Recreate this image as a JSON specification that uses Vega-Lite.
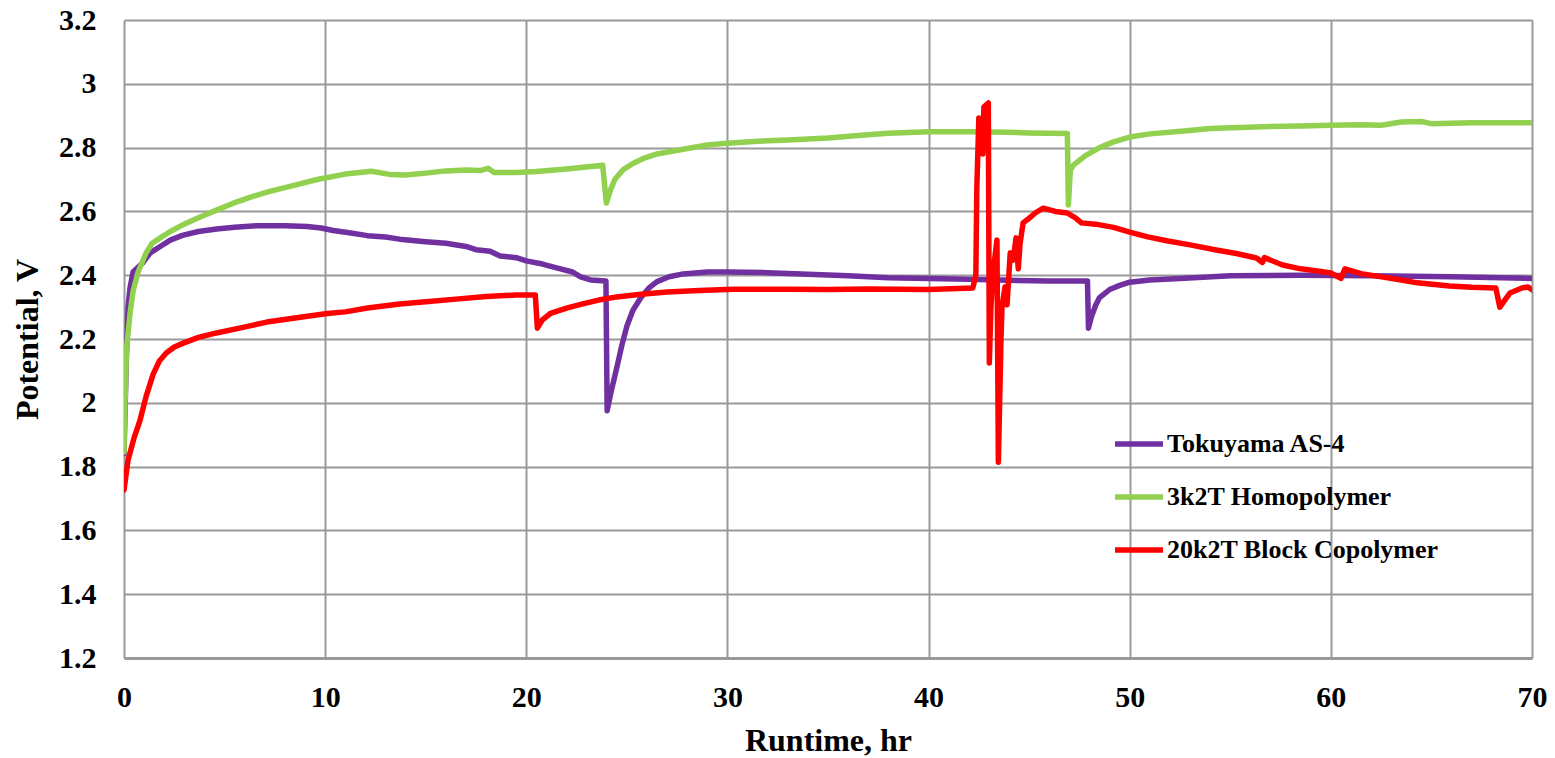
{
  "$schema": "https://vega.github.io/schema/vega-lite/v6.json",
  "width": 1408,
  "height": 638,
  "autosize": {"type": "none"},
  "padding": {"left": 124, "top": 20, "right": 23, "bottom": 100},
  "background": "white",
  "config": {"view": {"stroke": null}, "font": "Liberation Serif"},
  "data": {"values": [
    {"s":"Tokuyama AS-4","t":0,"v":1.84},{"s":"Tokuyama AS-4","t":0.1,"v":2.1},{"s":"Tokuyama AS-4","t":0.2,"v":2.3},{"s":"Tokuyama AS-4","t":0.3,"v":2.36},{"s":"Tokuyama AS-4","t":0.45,"v":2.41},{"s":"Tokuyama AS-4","t":0.7,"v":2.425},{"s":"Tokuyama AS-4","t":0.95,"v":2.44},{"s":"Tokuyama AS-4","t":1.3,"v":2.47},{"s":"Tokuyama AS-4","t":1.8,"v":2.49},{"s":"Tokuyama AS-4","t":2.3,"v":2.51},{"s":"Tokuyama AS-4","t":2.9,"v":2.525},{"s":"Tokuyama AS-4","t":3.7,"v":2.537},{"s":"Tokuyama AS-4","t":4.6,"v":2.545},{"s":"Tokuyama AS-4","t":5.5,"v":2.55},{"s":"Tokuyama AS-4","t":6.6,"v":2.555},{"s":"Tokuyama AS-4","t":8,"v":2.555},{"s":"Tokuyama AS-4","t":9.1,"v":2.553},{"s":"Tokuyama AS-4","t":9.8,"v":2.548},{"s":"Tokuyama AS-4","t":10.4,"v":2.54},{"s":"Tokuyama AS-4","t":11.2,"v":2.533},{"s":"Tokuyama AS-4","t":12.1,"v":2.524},{"s":"Tokuyama AS-4","t":13,"v":2.52},{"s":"Tokuyama AS-4","t":13.7,"v":2.513},{"s":"Tokuyama AS-4","t":15,"v":2.505},{"s":"Tokuyama AS-4","t":16,"v":2.5},{"s":"Tokuyama AS-4","t":17,"v":2.49},{"s":"Tokuyama AS-4","t":17.5,"v":2.48},{"s":"Tokuyama AS-4","t":18.2,"v":2.475},{"s":"Tokuyama AS-4","t":18.7,"v":2.46},{"s":"Tokuyama AS-4","t":19.5,"v":2.455},{"s":"Tokuyama AS-4","t":20,"v":2.445},{"s":"Tokuyama AS-4","t":20.8,"v":2.435},{"s":"Tokuyama AS-4","t":21.7,"v":2.42},{"s":"Tokuyama AS-4","t":22.3,"v":2.41},{"s":"Tokuyama AS-4","t":22.7,"v":2.395},{"s":"Tokuyama AS-4","t":23.2,"v":2.385},{"s":"Tokuyama AS-4","t":23.96,"v":2.382},{"s":"Tokuyama AS-4","t":24.02,"v":1.975},{"s":"Tokuyama AS-4","t":24.2,"v":2.03},{"s":"Tokuyama AS-4","t":24.5,"v":2.11},{"s":"Tokuyama AS-4","t":24.75,"v":2.18},{"s":"Tokuyama AS-4","t":25,"v":2.24},{"s":"Tokuyama AS-4","t":25.3,"v":2.29},{"s":"Tokuyama AS-4","t":25.7,"v":2.33},{"s":"Tokuyama AS-4","t":26.1,"v":2.36},{"s":"Tokuyama AS-4","t":26.5,"v":2.38},{"s":"Tokuyama AS-4","t":27.1,"v":2.395},{"s":"Tokuyama AS-4","t":27.8,"v":2.404},{"s":"Tokuyama AS-4","t":29,"v":2.41},{"s":"Tokuyama AS-4","t":30,"v":2.41},{"s":"Tokuyama AS-4","t":32,"v":2.408},{"s":"Tokuyama AS-4","t":34,"v":2.403},{"s":"Tokuyama AS-4","t":36,"v":2.398},{"s":"Tokuyama AS-4","t":38,"v":2.392},{"s":"Tokuyama AS-4","t":40,"v":2.39},{"s":"Tokuyama AS-4","t":42,"v":2.387},{"s":"Tokuyama AS-4","t":44,"v":2.384},{"s":"Tokuyama AS-4","t":46,"v":2.382},{"s":"Tokuyama AS-4","t":47.9,"v":2.382},{"s":"Tokuyama AS-4","t":47.95,"v":2.234},{"s":"Tokuyama AS-4","t":48.1,"v":2.27},{"s":"Tokuyama AS-4","t":48.3,"v":2.305},{"s":"Tokuyama AS-4","t":48.5,"v":2.33},{"s":"Tokuyama AS-4","t":49,"v":2.355},{"s":"Tokuyama AS-4","t":49.5,"v":2.368},{"s":"Tokuyama AS-4","t":50,"v":2.378},{"s":"Tokuyama AS-4","t":51,"v":2.385},{"s":"Tokuyama AS-4","t":52.5,"v":2.39},{"s":"Tokuyama AS-4","t":55,"v":2.398},{"s":"Tokuyama AS-4","t":58.5,"v":2.4},{"s":"Tokuyama AS-4","t":62,"v":2.398},{"s":"Tokuyama AS-4","t":66,"v":2.395},{"s":"Tokuyama AS-4","t":70,"v":2.39},

    {"s":"3k2T Homopolymer","t":0,"v":1.846},{"s":"3k2T Homopolymer","t":0.05,"v":2.0},{"s":"3k2T Homopolymer","t":0.13,"v":2.175},{"s":"3k2T Homopolymer","t":0.3,"v":2.28},{"s":"3k2T Homopolymer","t":0.45,"v":2.35},{"s":"3k2T Homopolymer","t":0.7,"v":2.41},{"s":"3k2T Homopolymer","t":1.1,"v":2.47},{"s":"3k2T Homopolymer","t":1.4,"v":2.5},{"s":"3k2T Homopolymer","t":1.8,"v":2.517},{"s":"3k2T Homopolymer","t":2.3,"v":2.537},{"s":"3k2T Homopolymer","t":2.9,"v":2.557},{"s":"3k2T Homopolymer","t":3.7,"v":2.58},{"s":"3k2T Homopolymer","t":4.6,"v":2.604},{"s":"3k2T Homopolymer","t":5.4,"v":2.625},{"s":"3k2T Homopolymer","t":6.3,"v":2.645},{"s":"3k2T Homopolymer","t":7.2,"v":2.662},{"s":"3k2T Homopolymer","t":8.1,"v":2.676},{"s":"3k2T Homopolymer","t":9.6,"v":2.7},{"s":"3k2T Homopolymer","t":11,"v":2.717},{"s":"3k2T Homopolymer","t":12.3,"v":2.726},{"s":"3k2T Homopolymer","t":13.2,"v":2.716},{"s":"3k2T Homopolymer","t":14,"v":2.714},{"s":"3k2T Homopolymer","t":15,"v":2.72},{"s":"3k2T Homopolymer","t":16,"v":2.727},{"s":"3k2T Homopolymer","t":17,"v":2.73},{"s":"3k2T Homopolymer","t":17.7,"v":2.728},{"s":"3k2T Homopolymer","t":18.1,"v":2.735},{"s":"3k2T Homopolymer","t":18.4,"v":2.722},{"s":"3k2T Homopolymer","t":19.5,"v":2.722},{"s":"3k2T Homopolymer","t":20.5,"v":2.725},{"s":"3k2T Homopolymer","t":22,"v":2.733},{"s":"3k2T Homopolymer","t":23.8,"v":2.745},{"s":"3k2T Homopolymer","t":23.98,"v":2.626},{"s":"3k2T Homopolymer","t":24.2,"v":2.67},{"s":"3k2T Homopolymer","t":24.4,"v":2.7},{"s":"3k2T Homopolymer","t":24.8,"v":2.73},{"s":"3k2T Homopolymer","t":25.3,"v":2.75},{"s":"3k2T Homopolymer","t":25.9,"v":2.768},{"s":"3k2T Homopolymer","t":26.5,"v":2.78},{"s":"3k2T Homopolymer","t":27.8,"v":2.795},{"s":"3k2T Homopolymer","t":29,"v":2.808},{"s":"3k2T Homopolymer","t":30,"v":2.814},{"s":"3k2T Homopolymer","t":31.5,"v":2.82},{"s":"3k2T Homopolymer","t":33,"v":2.824},{"s":"3k2T Homopolymer","t":35,"v":2.83},{"s":"3k2T Homopolymer","t":36.5,"v":2.838},{"s":"3k2T Homopolymer","t":38,"v":2.845},{"s":"3k2T Homopolymer","t":40,"v":2.85},{"s":"3k2T Homopolymer","t":42,"v":2.85},{"s":"3k2T Homopolymer","t":44,"v":2.848},{"s":"3k2T Homopolymer","t":45,"v":2.846},{"s":"3k2T Homopolymer","t":46.9,"v":2.844},{"s":"3k2T Homopolymer","t":46.95,"v":2.62},{"s":"3k2T Homopolymer","t":47.05,"v":2.73},{"s":"3k2T Homopolymer","t":47.2,"v":2.745},{"s":"3k2T Homopolymer","t":47.8,"v":2.775},{"s":"3k2T Homopolymer","t":48.5,"v":2.8},{"s":"3k2T Homopolymer","t":49.2,"v":2.818},{"s":"3k2T Homopolymer","t":50,"v":2.833},{"s":"3k2T Homopolymer","t":51,"v":2.843},{"s":"3k2T Homopolymer","t":52.7,"v":2.852},{"s":"3k2T Homopolymer","t":54,"v":2.86},{"s":"3k2T Homopolymer","t":55.1,"v":2.862},{"s":"3k2T Homopolymer","t":57,"v":2.866},{"s":"3k2T Homopolymer","t":58.5,"v":2.868},{"s":"3k2T Homopolymer","t":60,"v":2.87},{"s":"3k2T Homopolymer","t":61.5,"v":2.872},{"s":"3k2T Homopolymer","t":62.5,"v":2.87},{"s":"3k2T Homopolymer","t":63.5,"v":2.88},{"s":"3k2T Homopolymer","t":64.5,"v":2.882},{"s":"3k2T Homopolymer","t":65,"v":2.875},{"s":"3k2T Homopolymer","t":67,"v":2.878},{"s":"3k2T Homopolymer","t":70,"v":2.878},

    {"s":"20k2T Block Copolymer","t":0,"v":1.727},{"s":"20k2T Block Copolymer","t":0.2,"v":1.82},{"s":"20k2T Block Copolymer","t":0.5,"v":1.89},{"s":"20k2T Block Copolymer","t":0.8,"v":1.946},{"s":"20k2T Block Copolymer","t":1.1,"v":2.02},{"s":"20k2T Block Copolymer","t":1.45,"v":2.09},{"s":"20k2T Block Copolymer","t":1.75,"v":2.13},{"s":"20k2T Block Copolymer","t":2.1,"v":2.156},{"s":"20k2T Block Copolymer","t":2.5,"v":2.175},{"s":"20k2T Block Copolymer","t":2.95,"v":2.187},{"s":"20k2T Block Copolymer","t":3.7,"v":2.205},{"s":"20k2T Block Copolymer","t":4.6,"v":2.219},{"s":"20k2T Block Copolymer","t":5.8,"v":2.235},{"s":"20k2T Block Copolymer","t":7.1,"v":2.253},{"s":"20k2T Block Copolymer","t":8.5,"v":2.266},{"s":"20k2T Block Copolymer","t":10.1,"v":2.28},{"s":"20k2T Block Copolymer","t":11,"v":2.285},{"s":"20k2T Block Copolymer","t":12.1,"v":2.297},{"s":"20k2T Block Copolymer","t":13.7,"v":2.31},{"s":"20k2T Block Copolymer","t":15,"v":2.317},{"s":"20k2T Block Copolymer","t":16.5,"v":2.325},{"s":"20k2T Block Copolymer","t":18,"v":2.333},{"s":"20k2T Block Copolymer","t":19.5,"v":2.338},{"s":"20k2T Block Copolymer","t":20.45,"v":2.338},{"s":"20k2T Block Copolymer","t":20.55,"v":2.234},{"s":"20k2T Block Copolymer","t":20.8,"v":2.26},{"s":"20k2T Block Copolymer","t":21.2,"v":2.28},{"s":"20k2T Block Copolymer","t":22,"v":2.297},{"s":"20k2T Block Copolymer","t":22.8,"v":2.31},{"s":"20k2T Block Copolymer","t":23.6,"v":2.322},{"s":"20k2T Block Copolymer","t":24.5,"v":2.332},{"s":"20k2T Block Copolymer","t":25.7,"v":2.34},{"s":"20k2T Block Copolymer","t":27,"v":2.347},{"s":"20k2T Block Copolymer","t":28.6,"v":2.352},{"s":"20k2T Block Copolymer","t":30.3,"v":2.356},{"s":"20k2T Block Copolymer","t":33,"v":2.356},{"s":"20k2T Block Copolymer","t":35,"v":2.355},{"s":"20k2T Block Copolymer","t":37,"v":2.357},{"s":"20k2T Block Copolymer","t":40,"v":2.355},{"s":"20k2T Block Copolymer","t":42.2,"v":2.36},{"s":"20k2T Block Copolymer","t":42.35,"v":2.4},{"s":"20k2T Block Copolymer","t":42.4,"v":2.676},{"s":"20k2T Block Copolymer","t":42.5,"v":2.893},{"s":"20k2T Block Copolymer","t":42.6,"v":2.86},{"s":"20k2T Block Copolymer","t":42.7,"v":2.78},{"s":"20k2T Block Copolymer","t":42.75,"v":2.927},{"s":"20k2T Block Copolymer","t":42.97,"v":2.94},{"s":"20k2T Block Copolymer","t":43.02,"v":2.125},{"s":"20k2T Block Copolymer","t":43.1,"v":2.3},{"s":"20k2T Block Copolymer","t":43.2,"v":2.407},{"s":"20k2T Block Copolymer","t":43.4,"v":2.51},{"s":"20k2T Block Copolymer","t":43.47,"v":1.814},{"s":"20k2T Block Copolymer","t":43.6,"v":2.2},{"s":"20k2T Block Copolymer","t":43.65,"v":2.3},{"s":"20k2T Block Copolymer","t":43.8,"v":2.363},{"s":"20k2T Block Copolymer","t":43.9,"v":2.307},{"s":"20k2T Block Copolymer","t":44.06,"v":2.47},{"s":"20k2T Block Copolymer","t":44.2,"v":2.447},{"s":"20k2T Block Copolymer","t":44.35,"v":2.517},{"s":"20k2T Block Copolymer","t":44.46,"v":2.42},{"s":"20k2T Block Copolymer","t":44.55,"v":2.5},{"s":"20k2T Block Copolymer","t":44.7,"v":2.564},{"s":"20k2T Block Copolymer","t":44.95,"v":2.576},{"s":"20k2T Block Copolymer","t":45.3,"v":2.595},{"s":"20k2T Block Copolymer","t":45.7,"v":2.61},{"s":"20k2T Block Copolymer","t":46.3,"v":2.6},{"s":"20k2T Block Copolymer","t":46.9,"v":2.595},{"s":"20k2T Block Copolymer","t":47.3,"v":2.58},{"s":"20k2T Block Copolymer","t":47.6,"v":2.564},{"s":"20k2T Block Copolymer","t":48.3,"v":2.56},{"s":"20k2T Block Copolymer","t":49.2,"v":2.55},{"s":"20k2T Block Copolymer","t":50,"v":2.535},{"s":"20k2T Block Copolymer","t":50.9,"v":2.52},{"s":"20k2T Block Copolymer","t":51.9,"v":2.507},{"s":"20k2T Block Copolymer","t":53,"v":2.495},{"s":"20k2T Block Copolymer","t":54.3,"v":2.479},{"s":"20k2T Block Copolymer","t":55.3,"v":2.468},{"s":"20k2T Block Copolymer","t":56.3,"v":2.454},{"s":"20k2T Block Copolymer","t":56.6,"v":2.44},{"s":"20k2T Block Copolymer","t":56.7,"v":2.455},{"s":"20k2T Block Copolymer","t":57.6,"v":2.432},{"s":"20k2T Block Copolymer","t":58.5,"v":2.42},{"s":"20k2T Block Copolymer","t":59.5,"v":2.412},{"s":"20k2T Block Copolymer","t":60,"v":2.407},{"s":"20k2T Block Copolymer","t":60.5,"v":2.39},{"s":"20k2T Block Copolymer","t":60.7,"v":2.42},{"s":"20k2T Block Copolymer","t":61.5,"v":2.405},{"s":"20k2T Block Copolymer","t":62.6,"v":2.394},{"s":"20k2T Block Copolymer","t":63.5,"v":2.385},{"s":"20k2T Block Copolymer","t":64.3,"v":2.376},{"s":"20k2T Block Copolymer","t":65.9,"v":2.366},{"s":"20k2T Block Copolymer","t":67,"v":2.362},{"s":"20k2T Block Copolymer","t":68.2,"v":2.36},{"s":"20k2T Block Copolymer","t":68.4,"v":2.3},{"s":"20k2T Block Copolymer","t":68.9,"v":2.344},{"s":"20k2T Block Copolymer","t":69.5,"v":2.36},{"s":"20k2T Block Copolymer","t":69.8,"v":2.363},{"s":"20k2T Block Copolymer","t":70,"v":2.354}
  ]},
  "mark": {"type": "line", "strokeWidth": 5.5, "strokeJoin": "round", "strokeCap": "round", "clip": true},
  "encoding": {
    "x": {
      "field": "t", "type": "quantitative",
      "scale": {"domain": [0, 70], "nice": false, "zero": false},
      "axis": {
        "values": [0, 10, 20, 30, 40, 50, 60, 70],
        "title": "Runtime, hr",
        "grid": true, "gridColor": "#999999", "gridWidth": 2,
        "domain": true, "domainColor": "#999999", "domainWidth": 3,
        "ticks": false, "tickSize": 0,
        "labelFlush": false, "labelOverlap": false,
        "labelFont": "Liberation Serif", "labelFontSize": 30, "labelFontWeight": "bold", "labelColor": "black", "labelPadding": 24,
        "titleFont": "Liberation Serif", "titleFontSize": 32, "titleFontWeight": "bold", "titleColor": "black", "titlePadding": 13
      }
    },
    "y": {
      "field": "v", "type": "quantitative",
      "scale": {"domain": [1.2, 3.2], "nice": false, "zero": false},
      "axis": {
        "values": [1.2, 1.4, 1.6, 1.8, 2.0, 2.2, 2.4, 2.6, 2.8, 3.0, 3.2],
        "format": ".1~f",
        "title": "Potential, V",
        "grid": true, "gridColor": "#999999", "gridWidth": 2,
        "domain": false, "ticks": false, "tickSize": 0,
        "labelFlush": false, "labelOverlap": false,
        "labelFont": "Liberation Serif", "labelFontSize": 30, "labelFontWeight": "bold", "labelColor": "black", "labelPadding": 28,
        "titleFont": "Liberation Serif", "titleFontSize": 32, "titleFontWeight": "bold", "titleColor": "black", "titlePadding": 14
      }
    },
    "color": {
      "field": "s", "type": "nominal",
      "scale": {"domain": ["Tokuyama AS-4", "3k2T Homopolymer", "20k2T Block Copolymer"], "range": ["#7030A0", "#92D050", "#FF0000"]},
      "legend": {
        "orient": "none", "legendX": 988, "legendY": 397,
        "title": null, "symbolType": "stroke", "symbolSize": 2304, "symbolStrokeWidth": 5.5,
        "labelFont": "Liberation Serif", "labelFontSize": 26, "labelFontWeight": "bold", "labelColor": "black",
        "labelLimit": 500, "labelOffset": 1, "padding": 0, "rowPadding": 13
      }
    }
  }
}
